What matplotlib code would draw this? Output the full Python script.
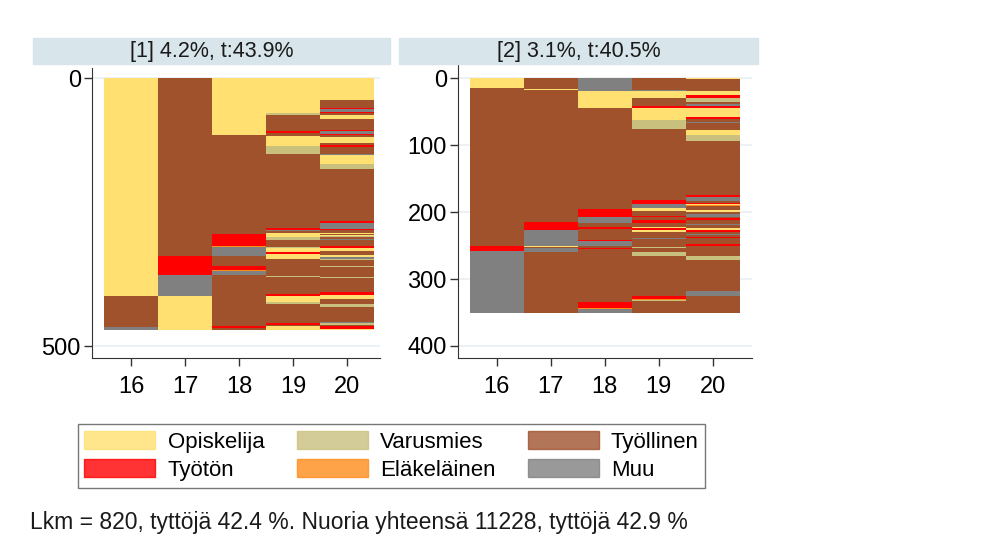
import matplotlib
matplotlib.use("Agg")
import matplotlib.pyplot as plt
from matplotlib.patches import Patch, Rectangle

plt.rcParams['font.family'] = ['Liberation Sans', 'DejaVu Sans']

# tilat: O=Opiskelija, V=Varusmies, T=Työllinen, U=Työtön, E=Eläkeläinen, M=Muu
tila_nimet = {"O": "Opiskelija", "V": "Varusmies", "T": "Työllinen",
              "U": "Työtön", "E": "Eläkeläinen", "M": "Muu"}
tila_varit = {"O": "#FFE070", "V": "#C9C07E", "T": "#A0522D",
              "U": "#FF0000", "E": "#FF8C1A", "M": "#808080"}
iat = [16, 17, 18, 19, 20]

# paneeli 1 (470 nuorta), ajot ylhäältä alas: (tila, lukumäärä)
p1_16 = [("O", 406), ("T", 58), ("M", 6)]
p1_17 = [("T", 331), ("U", 37), ("M", 38), ("O", 64)]
p1_18 = [("O", 106), ("T", 184), ("U", 23), ("E", 1), ("M", 17), ("T", 19),
         ("U", 8), ("E", 1), ("M", 9), ("T", 94), ("U", 4), ("T", 4)]
p1_19 = [("O", 65), ("V", 3), ("T", 31), ("U", 4), ("T", 5), ("O", 19), ("V", 15),
         ("T", 137), ("U", 5), ("M", 2), ("T", 2), ("O", 9), ("V", 5), ("T", 12),
         ("V", 3), ("O", 8), ("U", 3), ("O", 10), ("T", 10), ("M", 1), ("T", 20),
         ("V", 1), ("T", 32), ("U", 4), ("O", 11), ("V", 4), ("T", 35), ("U", 4),
         ("M", 1), ("T", 2), ("O", 7)]
p1_20 = [("O", 40), ("T", 16), ("U", 2), ("M", 5), ("U", 2), ("T", 3), ("O", 8),
         ("T", 20), ("U", 2), ("M", 6), ("U", 2), ("T", 3), ("O", 12), ("T", 3),
         ("U", 5), ("T", 13), ("M", 2), ("O", 16), ("V", 10), ("T", 96), ("U", 4),
         ("M", 12), ("U", 2), ("T", 4), ("O", 2), ("T", 3), ("O", 2), ("V", 2),
         ("T", 3), ("M", 2), ("T", 11), ("U", 3), ("O", 6), ("T", 8), ("O", 4),
         ("M", 3), ("V", 2), ("T", 11), ("V", 3), ("T", 17), ("V", 2), ("T", 26),
         ("U", 6), ("O", 8), ("T", 9), ("V", 6), ("T", 27), ("M", 3), ("V", 3),
         ("T", 3), ("U", 5), ("O", 2)]

# paneeli 2 (350 nuorta)
p2_16 = [("O", 15), ("T", 235), ("U", 8), ("M", 92)]
p2_17 = [("T", 16), ("O", 1), ("T", 197), ("U", 13), ("M", 23), ("O", 2), ("T", 2),
         ("M", 5), ("T", 91)]
p2_18 = [("M", 19), ("O", 26), ("T", 150), ("U", 12), ("M", 9), ("T", 6), ("U", 3),
         ("T", 16), ("U", 2), ("M", 7), ("T", 3), ("U", 2), ("T", 79), ("U", 9),
         ("E", 2), ("M", 5)]
p2_19 = [("T", 17), ("M", 2), ("O", 10), ("T", 12), ("U", 4), ("O", 17), ("V", 14),
         ("T", 106), ("U", 6), ("M", 6), ("O", 4), ("T", 7), ("U", 2), ("T", 5),
         ("U", 4), ("T", 6), ("O", 2), ("U", 2), ("O", 4), ("T", 9), ("M", 1),
         ("T", 12), ("V", 1), ("T", 6), ("V", 6), ("T", 60), ("U", 5), ("E", 1),
         ("V", 2), ("T", 17)]
p2_20 = [("O", 1), ("T", 18), ("O", 6), ("U", 4), ("V", 7), ("T", 3), ("M", 2),
         ("U", 3), ("O", 13), ("U", 3), ("T", 5), ("M", 2), ("T", 10), ("O", 8),
         ("V", 9), ("T", 81), ("U", 3), ("M", 6), ("T", 2), ("U", 2), ("O", 2),
         ("E", 1), ("T", 6), ("O", 2), ("T", 3), ("M", 5), ("T", 2), ("U", 3),
         ("T", 5), ("M", 2), ("T", 5), ("O", 2), ("U", 3), ("T", 3), ("M", 2),
         ("T", 3), ("U", 2), ("T", 8), ("U", 3), ("T", 15), ("V", 6), ("T", 47),
         ("M", 7), ("T", 25)]

otsikot = ["[1] 4.2%, t:43.9%", "[2] 3.1%, t:40.5%"]
p1_yticks = [0, 500]
p2_yticks = [0, 100, 200, 300, 400]
alaviite = "Lkm = 820, tyttöjä 42.4 %. Nuoria yhteensä 11228, tyttöjä 42.9 %"

W, H = 1000, 551
fig = plt.figure(figsize=(W / 100, H / 100), dpi=100)


def px(x0, y0, x1, y1):
    return [x0 / W, 1 - y1 / H, (x1 - x0) / W, (y1 - y0) / H]


def piirra(ax, sarakkeet, yticks, ylim, xlim):
    for ika, ajot in zip(iat, sarakkeet):
        alku = 0
        for tila, n in ajot:
            ax.bar(ika, n, bottom=alku, width=1.0, color=tila_varit[tila],
                   linewidth=0, zorder=2)
            alku += n
    ax.set_xlim(*xlim)
    ax.set_ylim(*ylim)
    ax.set_xticks(iat)
    ax.set_yticks(yticks)
    ax.tick_params(labelsize=17, length=6, width=1, color="#333333")
    ax.tick_params(axis="y", pad=2)
    ax.tick_params(axis="x", pad=7)
    for s in ["top", "right"]:
        ax.spines[s].set_visible(False)
    for s in ["left", "bottom"]:
        ax.spines[s].set_color("#333333")
    ax.yaxis.grid(True, color="#E8EFF2", linewidth=1.2, zorder=0)
    ax.set_axisbelow(True)


ax1 = fig.add_axes(px(92, 68, 380, 358))
piirra(ax1, [p1_16, p1_17, p1_18, p1_19, p1_20], p1_yticks, (522, -19), (15.27, 20.61))
ax2 = fig.add_axes(px(458, 65, 752, 358))
piirra(ax2, [p2_16, p2_17, p2_18, p2_19, p2_20], p2_yticks, (418, -20), (15.28, 20.73))

# otsikkoliuskat
for (x0, x1), teksti in zip([(33, 390), (399, 758)], otsikot):
    fig.patches.append(Rectangle((x0 / W, 1 - 64 / H), (x1 - x0) / W, 26 / H,
                                 transform=fig.transFigure, color="#D8E5EA", zorder=0))
    fig.text((x0 + x1) / 2 / W, 1 - 51 / H, teksti, ha="center", va="center",
             fontsize=15.5, color="#1a1a1a")

# selite (sarakkeittain täytetty, jotta rivit vastaavat kuvaa)
jarjestys = ["O", "U", "V", "E", "T", "M"]
kahvat = [Patch(facecolor=tila_varit[k], edgecolor=tila_varit[k], alpha=0.8,
                label=tila_nimet[k]) for k in jarjestys]
leg = fig.legend(handles=kahvat, ncol=3, loc="center",
                 bbox_to_anchor=(391.5 / W, 1 - 456 / H), fontsize=16,
                 handlelength=3.2, handleheight=0.86, handletextpad=0.55,
                 columnspacing=1.45, labelspacing=0.3, borderpad=0.3,
                 fancybox=False, frameon=True)
leg.get_frame().set_edgecolor("#555555")
leg.get_frame().set_linewidth(1.0)

fig.text(30 / W, 1 - 523 / H, alaviite, ha="left", va="center", fontsize=16.5,
         color="#1a1a1a")

fig.savefig("out.png", dpi=100, facecolor="white")
